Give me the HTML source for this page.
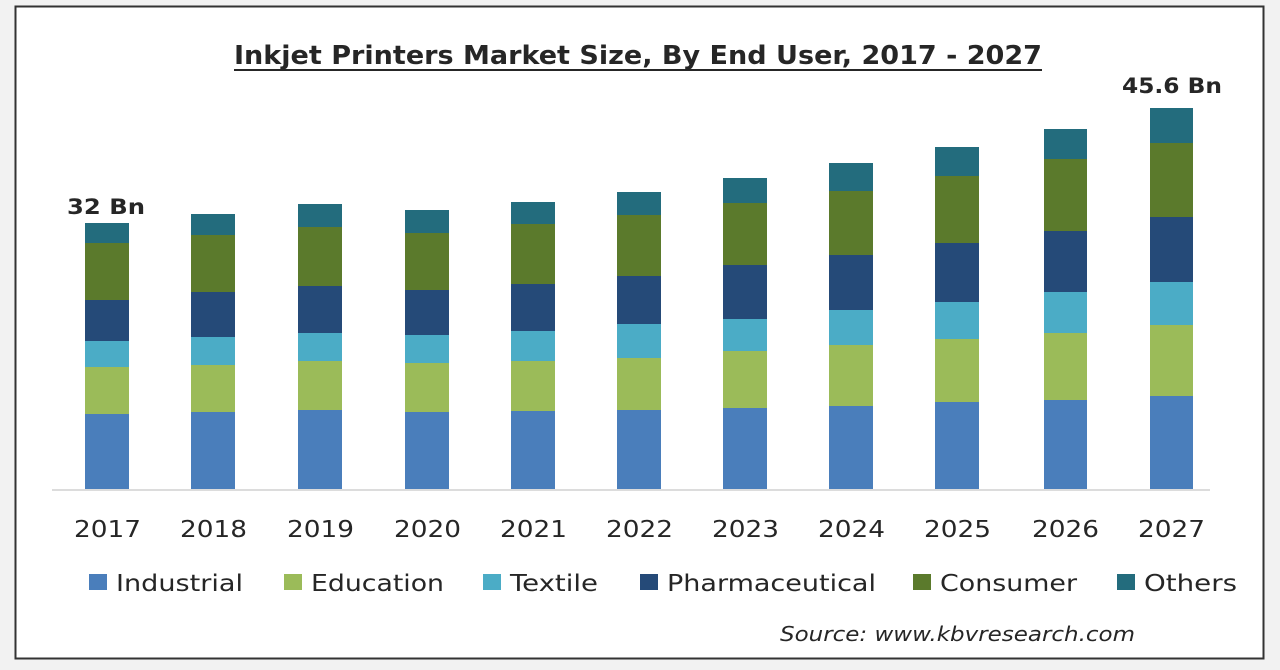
<!DOCTYPE html>
<html><head><meta charset="utf-8"><style>
html,body{margin:0;padding:0;background:#f2f2f2;}
svg{display:block;}
text{font-family:"DejaVu Sans","Liberation Sans",sans-serif;fill:#262626;}
</style></head><body>
<svg width="1280" height="670" viewBox="0 0 1280 670" xmlns="http://www.w3.org/2000/svg">
<rect x="15.5" y="6.5" width="1248" height="652" fill="#fff" stroke="#333" stroke-width="2"/>
<text x="234" y="64" font-size="26" font-weight="bold" textLength="808" lengthAdjust="spacingAndGlyphs" style="font-family:'DejaVu Sans',sans-serif">Inkjet Printers Market Size, By End User, 2017 - 2027</text>
<line x1="234" y1="70" x2="1042" y2="70" stroke="#262626" stroke-width="2"/>
<line x1="52" y1="490" x2="1210" y2="490" stroke="#d0d0d0" stroke-width="1.5"/>
<g>
<rect x="85" y="223" width="44" height="266" fill="#236c7d"/><rect x="85" y="243" width="44" height="246" fill="#5b7a2c"/><rect x="85" y="300" width="44" height="189" fill="#254a78"/><rect x="85" y="341" width="44" height="148" fill="#4bacc6"/><rect x="85" y="367" width="44" height="122" fill="#9bbb59"/><rect x="85" y="414" width="44" height="75" fill="#4a7ebb"/>
<rect x="191" y="214" width="44" height="275" fill="#236c7d"/><rect x="191" y="235" width="44" height="254" fill="#5b7a2c"/><rect x="191" y="292" width="44" height="197" fill="#254a78"/><rect x="191" y="337" width="44" height="152" fill="#4bacc6"/><rect x="191" y="365" width="44" height="124" fill="#9bbb59"/><rect x="191" y="412" width="44" height="77" fill="#4a7ebb"/>
<rect x="298" y="204" width="44" height="285" fill="#236c7d"/><rect x="298" y="227" width="44" height="262" fill="#5b7a2c"/><rect x="298" y="286" width="44" height="203" fill="#254a78"/><rect x="298" y="333" width="44" height="156" fill="#4bacc6"/><rect x="298" y="361" width="44" height="128" fill="#9bbb59"/><rect x="298" y="410" width="44" height="79" fill="#4a7ebb"/>
<rect x="405" y="210" width="44" height="279" fill="#236c7d"/><rect x="405" y="233" width="44" height="256" fill="#5b7a2c"/><rect x="405" y="290" width="44" height="199" fill="#254a78"/><rect x="405" y="335" width="44" height="154" fill="#4bacc6"/><rect x="405" y="363" width="44" height="126" fill="#9bbb59"/><rect x="405" y="412" width="44" height="77" fill="#4a7ebb"/>
<rect x="511" y="202" width="44" height="287" fill="#236c7d"/><rect x="511" y="224" width="44" height="265" fill="#5b7a2c"/><rect x="511" y="284" width="44" height="205" fill="#254a78"/><rect x="511" y="331" width="44" height="158" fill="#4bacc6"/><rect x="511" y="361" width="44" height="128" fill="#9bbb59"/><rect x="511" y="411" width="44" height="78" fill="#4a7ebb"/>
<rect x="617" y="192" width="44" height="297" fill="#236c7d"/><rect x="617" y="215" width="44" height="274" fill="#5b7a2c"/><rect x="617" y="276" width="44" height="213" fill="#254a78"/><rect x="617" y="324" width="44" height="165" fill="#4bacc6"/><rect x="617" y="358" width="44" height="131" fill="#9bbb59"/><rect x="617" y="410" width="44" height="79" fill="#4a7ebb"/>
<rect x="723" y="178" width="44" height="311" fill="#236c7d"/><rect x="723" y="203" width="44" height="286" fill="#5b7a2c"/><rect x="723" y="265" width="44" height="224" fill="#254a78"/><rect x="723" y="319" width="44" height="170" fill="#4bacc6"/><rect x="723" y="351" width="44" height="138" fill="#9bbb59"/><rect x="723" y="408" width="44" height="81" fill="#4a7ebb"/>
<rect x="829" y="163" width="44" height="326" fill="#236c7d"/><rect x="829" y="191" width="44" height="298" fill="#5b7a2c"/><rect x="829" y="255" width="44" height="234" fill="#254a78"/><rect x="829" y="310" width="44" height="179" fill="#4bacc6"/><rect x="829" y="345" width="44" height="144" fill="#9bbb59"/><rect x="829" y="406" width="44" height="83" fill="#4a7ebb"/>
<rect x="935" y="147" width="44" height="342" fill="#236c7d"/><rect x="935" y="176" width="44" height="313" fill="#5b7a2c"/><rect x="935" y="243" width="44" height="246" fill="#254a78"/><rect x="935" y="302" width="44" height="187" fill="#4bacc6"/><rect x="935" y="339" width="44" height="150" fill="#9bbb59"/><rect x="935" y="402" width="44" height="87" fill="#4a7ebb"/>
<rect x="1044" y="129" width="43" height="360" fill="#236c7d"/><rect x="1044" y="159" width="43" height="330" fill="#5b7a2c"/><rect x="1044" y="231" width="43" height="258" fill="#254a78"/><rect x="1044" y="292" width="43" height="197" fill="#4bacc6"/><rect x="1044" y="333" width="43" height="156" fill="#9bbb59"/><rect x="1044" y="400" width="43" height="89" fill="#4a7ebb"/>
<rect x="1150" y="108" width="43" height="381" fill="#236c7d"/><rect x="1150" y="143" width="43" height="346" fill="#5b7a2c"/><rect x="1150" y="217" width="43" height="272" fill="#254a78"/><rect x="1150" y="282" width="43" height="207" fill="#4bacc6"/><rect x="1150" y="325" width="43" height="164" fill="#9bbb59"/><rect x="1150" y="396" width="43" height="93" fill="#4a7ebb"/>
</g>
<text x="67" y="214" font-size="21" font-weight="bold" textLength="78" lengthAdjust="spacingAndGlyphs">32 Bn</text>
<text x="1122" y="93" font-size="21" font-weight="bold" textLength="100" lengthAdjust="spacingAndGlyphs">45.6 Bn</text>
<g font-size="23">
<text x="74" y="537" textLength="67" lengthAdjust="spacingAndGlyphs">2017</text>
<text x="180" y="537" textLength="67" lengthAdjust="spacingAndGlyphs">2018</text>
<text x="287" y="537" textLength="67" lengthAdjust="spacingAndGlyphs">2019</text>
<text x="394" y="537" textLength="67" lengthAdjust="spacingAndGlyphs">2020</text>
<text x="500" y="537" textLength="67" lengthAdjust="spacingAndGlyphs">2021</text>
<text x="606" y="537" textLength="67" lengthAdjust="spacingAndGlyphs">2022</text>
<text x="712" y="537" textLength="67" lengthAdjust="spacingAndGlyphs">2023</text>
<text x="818" y="537" textLength="67" lengthAdjust="spacingAndGlyphs">2024</text>
<text x="924" y="537" textLength="67" lengthAdjust="spacingAndGlyphs">2025</text>
<text x="1032" y="537" textLength="67" lengthAdjust="spacingAndGlyphs">2026</text>
<text x="1138" y="537" textLength="67" lengthAdjust="spacingAndGlyphs">2027</text>
</g>
<g font-size="23">
<rect x="89" y="574" width="18" height="16" fill="#4a7ebb"/><text x="116" y="591" textLength="127" lengthAdjust="spacingAndGlyphs">Industrial</text>
<rect x="284" y="574" width="18" height="16" fill="#9bbb59"/><text x="311" y="591" textLength="133" lengthAdjust="spacingAndGlyphs">Education</text>
<rect x="483" y="574" width="18" height="16" fill="#4bacc6"/><text x="510" y="591" textLength="88" lengthAdjust="spacingAndGlyphs">Textile</text>
<rect x="640" y="574" width="18" height="16" fill="#254a78"/><text x="667" y="591" textLength="209" lengthAdjust="spacingAndGlyphs">Pharmaceutical</text>
<rect x="913" y="574" width="18" height="16" fill="#5b7a2c"/><text x="940" y="591" textLength="137" lengthAdjust="spacingAndGlyphs">Consumer</text>
<rect x="1117" y="574" width="18" height="16" fill="#236c7d"/><text x="1144" y="591" textLength="93" lengthAdjust="spacingAndGlyphs">Others</text>
</g>
<text x="780" y="641" font-size="20" font-style="italic" textLength="355" lengthAdjust="spacingAndGlyphs">Source:  www.kbvresearch.com</text>
</svg>
</body></html>
